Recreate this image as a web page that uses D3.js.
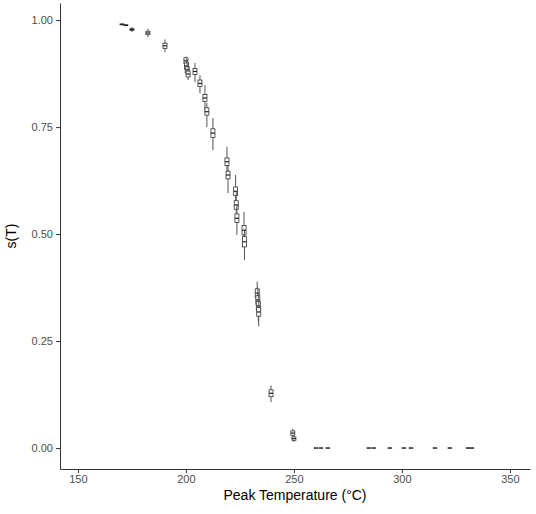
<!DOCTYPE html>
<html>
<head>
<meta charset="utf-8">
<script src="https://d3js.org/d3.v7.min.js"></script>
<style>
  body { margin: 0; background: #fff; }
  .axis text { font-family: "Liberation Sans", Arial, sans-serif; font-size: 11px; fill: #4d4d4d; }
  .axis line, .axis path { stroke: #333; }
  .title { font-family: "Liberation Sans", Arial, sans-serif; font-size: 14px; fill: #000; }
</style>
</head>
<body>
<svg id="chart" width="536" height="514"></svg>
<script>
// boxplot summaries, one entry per peak temperature
const temps   = [170.4, 172.2, 175.0, 182.4, 190.3, 200.0, 200.3, 200.6, 201.0, 204.2, 206.5, 208.8, 209.7, 212.5,
                 219.0, 219.5, 223.0, 223.3, 223.6, 226.9, 227.1, 233.0, 233.3, 233.5, 233.7, 239.4, 249.5, 250.0,
                 260.2, 262.5, 265.7, 284.7, 287.0, 294.4, 300.9, 304.2, 315.3, 322.2, 330.6, 332.4];
const medians = [0.990, 0.988, 0.978, 0.970, 0.940, 0.905, 0.893, 0.884, 0.874, 0.880, 0.852, 0.818, 0.786, 0.736,
                 0.669, 0.638, 0.600, 0.568, 0.537, 0.509, 0.482, 0.362, 0.346, 0.332, 0.318, 0.128, 0.035, 0.022,
                 0, 0, 0, 0, 0, 0, 0, 0, 0, 0, 0, 0];
const q1s     = [0.989, 0.987, 0.976, 0.966, 0.934, 0.898, 0.886, 0.877, 0.867, 0.873, 0.845, 0.810, 0.778, 0.726,
                 0.660, 0.629, 0.590, 0.558, 0.527, 0.498, 0.470, 0.352, 0.336, 0.322, 0.308, 0.120, 0.030, 0.018,
                 0, 0, 0, 0, 0, 0, 0, 0, 0, 0, 0, 0];
const q3s     = [0.991, 0.989, 0.980, 0.974, 0.946, 0.912, 0.900, 0.891, 0.881, 0.887, 0.860, 0.826, 0.795, 0.746,
                 0.678, 0.647, 0.610, 0.578, 0.547, 0.520, 0.494, 0.372, 0.356, 0.342, 0.328, 0.136, 0.040, 0.026,
                 0, 0, 0, 0, 0, 0, 0, 0, 0, 0, 0, 0];
const lows    = [0.988, 0.986, 0.972, 0.960, 0.925, 0.890, 0.878, 0.868, 0.860, 0.855, 0.829, 0.790, 0.750, 0.696,
                 0.630, 0.596, 0.575, 0.540, 0.498, 0.480, 0.439, 0.330, 0.310, 0.295, 0.284, 0.107, 0.025, 0.014,
                 0, 0, 0, 0, 0, 0, 0, 0, 0, 0, 0, 0];
const highs   = [0.992, 0.990, 0.984, 0.980, 0.955, 0.915, 0.910, 0.900, 0.890, 0.900, 0.871, 0.848, 0.806, 0.771,
                 0.704, 0.660, 0.638, 0.600, 0.570, 0.552, 0.510, 0.389, 0.375, 0.360, 0.345, 0.146, 0.045, 0.030,
                 0, 0, 0, 0, 0, 0, 0, 0, 0, 0, 0, 0];
const xTicks = [150, 200, 250, 300, 350];
const yTicks = [0, 0.25, 0.5, 0.75, 1];

const svg = d3.select('#chart');
const margins = {top: 3, right: 6, bottom: 45, left: 60};
const width = +svg.attr('width'), height = +svg.attr('height');

const x = d3.scaleLinear().domain([141.7, 359.3]).range([margins.left, width - margins.right]);
const y = d3.scaleLinear().domain([-0.049, 1.04]).range([height - margins.bottom, margins.top]);

svg.append('g')
  .attr('class', 'x axis')
  .attr('transform', `translate(0,${height - margins.bottom})`)
  .call(d3.axisBottom(x).tickValues(xTicks).tickSize(4).tickPadding(2).tickSizeOuter(0));

svg.append('g')
  .attr('class', 'y axis')
  .attr('transform', `translate(${margins.left},0)`)
  .call(d3.axisLeft(y).tickValues(yTicks).tickFormat(d3.format('.2f')).tickSize(4).tickPadding(3).tickSizeOuter(0));

const boxes = temps.map((t, i) => ({t, med: medians[i], q1: q1s[i], q3: q3s[i], lo: lows[i], hi: highs[i]}));
const bw = 4;

const g = svg.append('g');
boxes.forEach(d => {
  const cx = x(d.t);
  g.append('line')
    .attr('x1', cx).attr('x2', cx)
    .attr('y1', y(d.hi)).attr('y2', y(d.lo))
    .attr('stroke', '#555').attr('stroke-width', 1);
  g.append('rect')
    .attr('x', cx - bw / 2).attr('width', bw)
    .attr('y', y(d.q3)).attr('height', Math.max(0.01, y(d.q1) - y(d.q3)))
    .attr('fill', '#fff').attr('stroke', '#333').attr('stroke-width', 0.8);
  g.append('line')
    .attr('x1', cx - bw / 2).attr('x2', cx + bw / 2)
    .attr('y1', y(d.med)).attr('y2', y(d.med))
    .attr('stroke', '#222').attr('stroke-width', 1.2);
});

svg.append('text')
  .attr('class', 'title')
  .attr('x', (margins.left + width - margins.right) / 2)
  .attr('y', 500)
  .attr('text-anchor', 'middle')
  .text('Peak Temperature (°C)');

svg.append('text')
  .attr('class', 'title')
  .attr('transform', `translate(16,${(margins.top + height - margins.bottom) / 2}) rotate(-90)`)
  .attr('text-anchor', 'middle')
  .text('s(T)');
</script>
</body>
</html>
